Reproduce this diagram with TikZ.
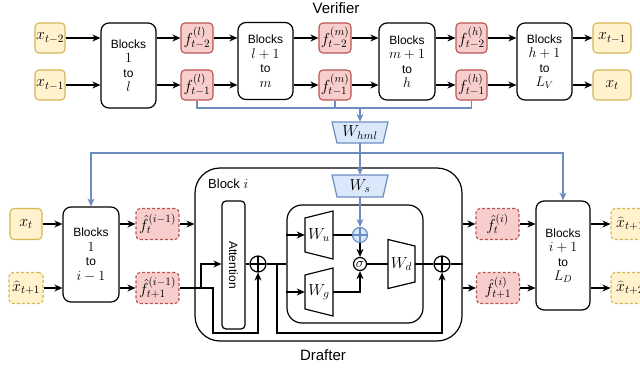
\RequirePackage{fix-cm}
\documentclass[tikz,border=0pt]{standalone}
\usepackage[no-math]{fontspec}
\setmainfont{Liberation Sans}
\usetikzlibrary{arrows.meta}
\definecolor{yfill}{HTML}{FFF2CC}
\definecolor{ybord}{HTML}{D6B656}
\definecolor{rfill}{HTML}{F8CECC}
\definecolor{rbord}{HTML}{B85450}
\definecolor{bfill}{HTML}{DAE8FC}
\definecolor{bbord}{HTML}{6C8EBF}
\newcommand\mth[1]{{\fontsize{16}{16}\selectfont$#1$}}
\newcommand\mbk[1]{{\fontsize{14}{14.5}\selectfont$#1$}}
\tikzset{
  every node/.style={inner sep=0pt},
  ln/.style={line width=1.2pt},
  arr/.style={line width=1.2pt, -{Stealth[length=8pt,width=7pt,inset=2.5pt]}},
  bln/.style={line width=1.2pt, draw=bbord},
  barr/.style={bln, -{Stealth[length=8pt,width=7pt,inset=2.5pt]}},
  sbox/.style={line width=1.1pt, rounded corners=4pt, minimum height=30pt},
  ybox/.style={sbox, draw=ybord, fill=yfill},
  rbox/.style={sbox, draw=rbord, fill=rfill},
  dsh/.style={dash pattern=on 3pt off 2pt},
  blk/.style={draw, line width=1.2pt, rounded corners=8pt, fill=white, align=center, font=\fontsize{12}{14.5}\selectfont},
  trapb/.style={draw=bbord, fill=bfill, line width=1.2pt},
  trapk/.style={draw=black, fill=white, line width=1.2pt},
  opl/.style={circle, draw=#1, line width=1.2pt, path picture={\draw[#1, line width=1.2pt] (path picture bounding box.north) -- (path picture bounding box.south) (path picture bounding box.west) -- (path picture bounding box.east);}},
  opl/.default=black,
  ttl/.style={font=\fontsize{15}{17}\selectfont}
}
\begin{document}
\begin{tikzpicture}[x=1pt,y=-1pt]
\clip (0,0) rectangle (640,369);
% ---------------- Verifier ----------------
\node[ttl] (ver) at (336,8) {Verifier};
\node[ybox, minimum width=30pt] (xa) at (50,38) {\mth{x_{t-2}}};
\node[ybox, minimum width=30pt] (xb) at (50,85) {\mth{x_{t-1}}};
\node[blk, minimum width=55pt, minimum height=85pt] (B1) at (128.5,65.5) {Blocks\\\mbk{1}\\to\\\mbk{l}};
\node[rbox, minimum width=32pt] (fl2) at (197,38) {\mth{f^{(l)}_{t-2}}};
\node[rbox, minimum width=32pt] (fl1) at (197,85) {\mth{f^{(l)}_{t-1}}};
\node[blk, minimum width=55pt, minimum height=77pt] (B2) at (265.5,61) {Blocks\\\mbk{l+1}\\to\\\mbk{m}};
\node[rbox, minimum width=32pt] (fm2) at (335,38) {\mth{f^{(m)}_{t-2}}};
\node[rbox, minimum width=32pt] (fm1) at (335,85) {\mth{f^{(m)}_{t-1}}};
\node[blk, minimum width=56pt, minimum height=77pt] (B3) at (407,61.5) {Blocks\\\mbk{m+1}\\to\\\mbk{h}};
\node[rbox, minimum width=31pt] (fh2) at (471.5,38) {\mth{f^{(h)}_{t-2}}};
\node[rbox, minimum width=31pt] (fh1) at (471.5,85) {\mth{f^{(h)}_{t-1}}};
\node[blk, minimum width=55pt, minimum height=77pt] (B4) at (544.5,61.5) {Blocks\\\mbk{h+1}\\to\\\mbk{L_V}};
\node[ybox, minimum width=38pt] (o1) at (612,38) {\mth{x_{t-1}}};
\node[ybox, minimum width=38pt] (o2) at (612,85) {\mth{x_{t}}};
\foreach \a/\b in {xa/B1, xb/B1}
  \draw[arr] (\a.east) -- (\a -| \b.west);
\foreach \a/\b in {B1/fl2, B1/fl1, B2/fm2, B2/fm1, B3/fh2, B3/fh1, B4/o1, B4/o2}
  \draw[arr] (\a.east |- \b) -- (\b.west);
\foreach \a/\b in {fl2/B2, fl1/B2, fm2/B3, fm1/B3, fh2/B4, fh1/B4}
  \draw[arr] (\a.east) -- (\a -| \b.west);
% blue merge
\coordinate (hb) at (360,108);
\coordinate (hc) at (360,153);
\draw[bln] (fl1.south) |- (fh1.south |- hb) -- (fh1.south);
\draw[bln] (fm1.south) -- (fm1.south |- hb);
\draw[trapb] (332,122) -- (388,122) -- (383,143) -- (337,143) -- cycle;
\node[minimum width=56pt, minimum height=21pt] (whml) at (360,132.5) {\mth{W_{hml}}};
\draw[barr] (hb) -- (whml.north);
% ---------------- Drafter ----------------
\node[ttl] (dra) at (323,355) {Drafter};
\node[draw, line width=1.2pt, rounded corners=25pt, minimum width=267pt, minimum height=173pt] (BI) at (328.5,254.5) {};
\node[anchor=west, font=\fontsize{13}{15}\selectfont] (BIl) at (208,184) {Block \mbk{i}};
\node[draw, line width=1.2pt, rounded corners=15pt, minimum width=136pt, minimum height=118pt] (mlp) at (355,264) {};
\node[draw, line width=1.2pt, rounded corners=4pt, minimum width=23pt, minimum height=128pt] (att) at (233.5,265) {};
\node[rotate=-90, font=\fontsize{12}{14}\selectfont] (attl) at (att.center) {Attention};
\node[ybox, minimum width=32pt, minimum height=31pt] (xt) at (26,224) {\mth{x_{t}}};
\node[ybox, dsh, minimum width=34pt, minimum height=31pt] (xh) at (26,288) {\mth{\widehat{x}_{t+1}}};
\node[blk, minimum width=56pt, minimum height=95pt] (B5) at (91,254.5) {Blocks\\\mbk{1}\\to\\\mbk{i-1}};
\node[rbox, dsh, minimum width=43pt, minimum height=31pt] (fa) at (157.5,224) {\mth{\hat{f}^{(i-1)}_{t}}};
\node[rbox, dsh, minimum width=43pt, minimum height=31pt] (fb) at (157.5,288) {\mth{\hat{f}^{(i-1)}_{t+1}}};
\node[rbox, dsh, minimum width=43pt, minimum height=31pt] (fc) at (497.5,224) {\mth{\hat{f}^{(i)}_{t}}};
\node[rbox, dsh, minimum width=43pt, minimum height=31pt] (fd) at (498,288) {\mth{\hat{f}^{(i)}_{t+1}}};
\node[blk, minimum width=54pt, minimum height=109pt] (B6) at (563,255.5) {Blocks\\\mbk{i+1}\\to\\\mbk{L_D}};
\node[ybox, dsh, minimum width=38pt, minimum height=31pt] (oa) at (630,224) {\mth{\widehat{x}_{t+1}}};
\node[ybox, dsh, minimum width=38pt, minimum height=31pt] (oc) at (630,288) {\mth{\widehat{x}_{t+2}}};
% trapezoids and operators
\draw[trapb] (332,175) -- (388,175) -- (383,197) -- (337,197) -- cycle;
\node[minimum width=56pt, minimum height=22pt] (ws) at (360,186) {\mth{W_{s}}};
\draw[trapk] (305,218) -- (333,211) -- (333,259) -- (305,252) -- cycle;
\node[minimum width=28pt, minimum height=34pt] (wu) at (319,235) {\mth{W_{u}}};
\draw[trapk] (305,275) -- (333,268) -- (333,316) -- (305,309) -- cycle;
\node[minimum width=28pt, minimum height=34pt] (wg) at (319,292) {\mth{W_{g}}};
\draw[trapk] (388,239.5) -- (415,246) -- (415,282) -- (388,288.5) -- cycle;
\node[minimum width=27pt, minimum height=36pt] (wd) at (401.5,264) {\mth{W_{d}}};
\node[opl=bbord, fill=bfill, minimum size=15pt] (bp) at (360,235) {};
\node[circle, draw, line width=1.2pt, fill=white, minimum size=13pt] (sg) at (360,264) {\mbk{\sigma}};
\node[opl, fill=white, minimum size=16pt] (pa) at (258,264) {};
\node[opl, fill=white, minimum size=16pt] (pb) at (442,264) {};
% blue connectors to drafter
\draw[barr] (whml.south) -- (ws.north);
\draw[barr] (hc) -| (B5.north);
\draw[barr] (hc) -| (B6.north);
\draw[barr] (ws.south) -- (bp.north);
% drafter black connectors
\draw[arr] (xt.east) -- (xt -| B5.west);
\draw[arr] (xh.east) -- (xh -| B5.west);
\draw[arr] (B5.east |- fa) -- (fa.west);
\draw[arr] (B5.east |- fb) -- (fb.west);
\draw[arr] (fa.east) -- (fa -| BI.west);
\coordinate (j1) at (201,288);
\coordinate (j2) at (213,288);
\coordinate (r1) at (213,333);
\coordinate (r2) at (277,264);
\coordinate (r3) at (277,333);
\draw[arr] (fb.east) -- (j2) -- (r1) -| (pa.south);
\draw[arr] (j1) |- (att.west |- pa);
\draw[ln] (att.east |- pa) -- (pa.west);
\draw[ln] (pa.east) -- (pa -| mlp.west);
\draw[arr] (r2) -- (r3) -| (pb.south);
\draw[arr] (mlp.west |- wu) -- (wu.west);
\draw[arr] (mlp.west |- wg) -- (wg.west);
\draw[ln] (wu.east) -- (bp.west);
\draw[arr] (bp.south) -- (sg.north);
\draw[arr] (wg.east) -| (sg.south);
\draw[ln] (sg.east) -- (wd.west);
\draw[ln] (wd.east) -- (pb.west);
\draw[ln] (pb.east) -- (pb -| BI.east);
\draw[arr] (BI.east |- fc) -- (fc.west);
\draw[arr] (BI.east |- fd) -- (fd.west);
\draw[arr] (fc.east) -- (fc -| B6.west);
\draw[arr] (fd.east) -- (fd -| B6.west);
\draw[arr] (B6.east |- oa) -- (oa.west);
\draw[arr] (B6.east |- oc) -- (oc.west);
\end{tikzpicture}
\end{document}
